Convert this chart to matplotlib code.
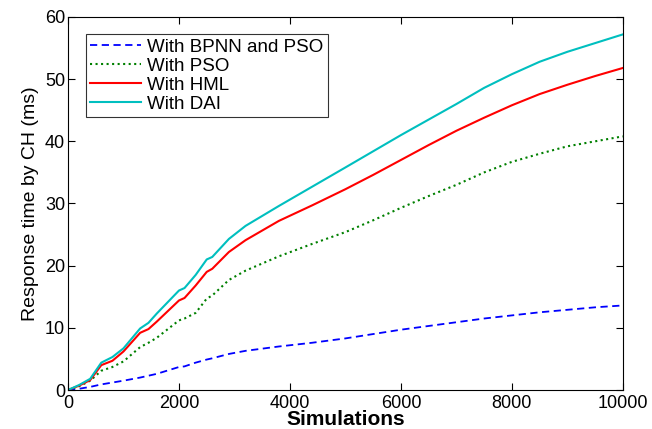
import numpy as np
import matplotlib
matplotlib.use('Agg')
import matplotlib.pyplot as plt

plt.rcParams['font.family'] = ['Liberation Sans', 'DejaVu Sans']

# sample points
sims = [0, 200, 400, 600, 800, 1000, 1300, 1450, 1600, 2000, 2100, 2300, 2500,
        2600, 2900, 3200, 3800, 4400, 5000, 5500, 6000, 6500, 7000, 7500,
        8000, 8500, 9000, 9500, 10000]

bpnn_pso = [0, 0.2, 0.5, 0.9, 1.2, 1.5, 2.0, 2.3, 2.6, 3.7, 3.8, 4.4, 4.9,
            5.1, 5.8, 6.3, 7.0, 7.6, 8.3, 9.0, 9.7, 10.3, 10.9, 11.5,
            12.0, 12.5, 12.9, 13.3, 13.6]
pso = [0, 0.6, 1.5, 3.1, 3.7, 4.6, 6.9, 7.6, 8.4, 11.2, 11.5, 12.4, 14.7,
       15.2, 17.7, 19.2, 21.5, 23.5, 25.4, 27.3, 29.3, 31.2, 33.0, 35.0,
       36.7, 38.0, 39.2, 40.0, 40.8]
hml = [0, 0.7, 1.6, 4.0, 4.7, 6.2, 9.2, 9.8, 11.0, 14.4, 14.8, 16.8, 19.0,
       19.5, 22.2, 24.1, 27.2, 29.7, 32.3, 34.6, 37.0, 39.4, 41.7, 43.8,
       45.8, 47.6, 49.1, 50.5, 51.8]
dai = [0, 0.8, 1.8, 4.4, 5.3, 6.7, 9.9, 10.8, 12.3, 16.0, 16.4, 18.5, 21.0,
       21.4, 24.3, 26.4, 29.6, 32.7, 35.8, 38.4, 41.0, 43.5, 46.0, 48.6,
       50.8, 52.8, 54.4, 55.8, 57.2]

labels = ['With BPNN and PSO', 'With PSO', 'With HML', 'With DAI']

fig = plt.figure(figsize=(6.52, 4.29), dpi=100)
ax = fig.add_axes([0.1043, 0.0909, 0.851, 0.8695])

ax.plot(sims, bpnn_pso, '--', color='#0000ff', lw=1.3, dashes=(4, 2.5), label=labels[0])
ax.plot(sims, pso, ':', color='#008000', lw=1.5, label=labels[1])
ax.plot(sims, hml, '-', color='#ff0000', lw=1.5, label=labels[2])
ax.plot(sims, dai, '-', color='#00bfbf', lw=1.5, label=labels[3])

ax.set_xlim(0, 10000)
ax.set_ylim(0, 60)
ax.set_xticks(np.arange(0, 10001, 2000))
ax.set_yticks(np.arange(0, 61, 10))
ax.tick_params(direction='in', top=True, right=True, labelsize=13, length=5, width=0.8, pad=2)
ax.tick_params(axis='x', pad=3.5)
for s in ax.spines.values():
    s.set_linewidth(0.8)

ax.set_xlabel('Simulations', fontsize=15, fontweight='bold', labelpad=-1)
ax.set_ylabel('Response time by CH (ms)', fontsize=14, labelpad=4)

leg = ax.legend(loc='upper left', bbox_to_anchor=(0.032, 0.955), fontsize=13.5,
                frameon=True, fancybox=False, edgecolor='black', borderpad=0.25,
                labelspacing=0.1, handlelength=2.7, handletextpad=0.3,
                borderaxespad=0)
leg.get_frame().set_linewidth(0.8)

fig.savefig('out.png', dpi=100)
